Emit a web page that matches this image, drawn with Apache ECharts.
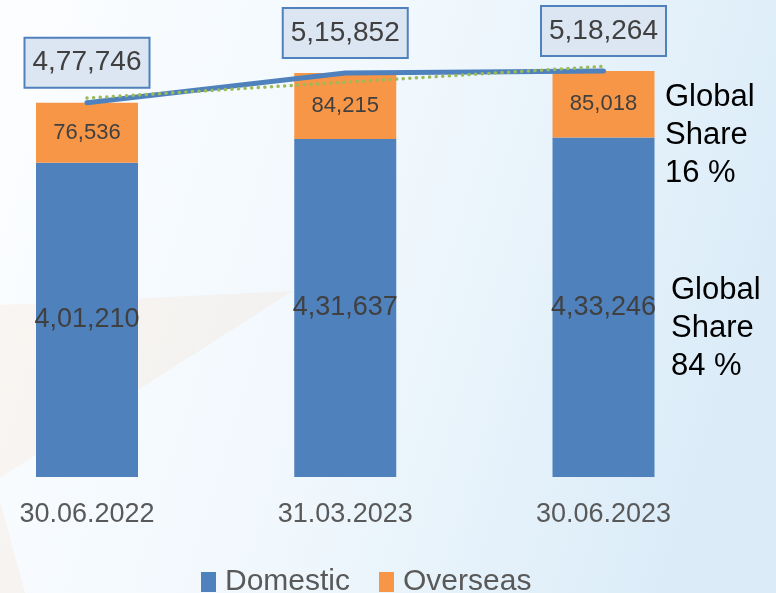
<!DOCTYPE html>
<html>
<head>
<meta charset="utf-8">
<script src="https://cdn.jsdelivr.net/npm/echarts@6/dist/echarts.min.js"></script>
<style>
  html, body { margin: 0; padding: 0; }
  #chart { width: 776px; height: 593px; }
</style>
</head>
<body>
<div id="chart"></div>
<script>
const dates = ['30.06.2022', '31.03.2023', '30.06.2023'];
const domestic = [401210, 431637, 433246];
const overseas = [76536, 84215, 85018];
const totals = [477746, 515852, 518264];
// dotted trend line
const trend = [483700, 504000, 524200];

const FONT = "'Liberation Sans', Arial, sans-serif";
const fmt = v => v.toLocaleString('en-IN');

const chart = echarts.init(document.getElementById('chart'));

const option = {
  backgroundColor: {
    type: 'linear', x: 0, y: 0, x2: 1, y2: 0.4,
    colorStops: [
      { offset: 0, color: '#fcfdff' },
      { offset: 0.5, color: '#f1f8fd' },
      { offset: 1, color: '#dbecf8' }
    ]
  },
  textStyle: { fontFamily: FONT },
  animation: false,
  grid: { left: 87, right: 172.5, top: 7, bottom: 116 },
  xAxis: {
    type: 'category',
    data: dates,
    boundaryGap: false,
    axisLine: { show: false },
    axisTick: { show: false },
    axisLabel: { fontSize: 27, color: '#595959', margin: 24, fontFamily: FONT }
  },
  yAxis: {
    type: 'value',
    min: 0,
    max: 600000,
    show: false,
    splitLine: { show: false }
  },
  legend: {
    data: ['Domestic', 'Overseas'],
    left: 196,
    top: 562,
    icon: 'rect',
    itemWidth: 15,
    itemHeight: 20,
    itemGap: 29,
    textStyle: { fontSize: 30, color: '#595959', fontFamily: FONT, padding: [0, 0, 0, 4] }
  },
  graphic: [
    {
      type: 'polygon', z: -10, silent: true,
      shape: { points: [[0, 305], [293, 291], [0, 478]] },
      style: { fill: 'rgba(248, 190, 130, 0.1)' }
    },
    {
      type: 'polygon', z: -10, silent: true,
      shape: { points: [[0, 500], [25, 593], [0, 593]] },
      style: { fill: 'rgba(248, 190, 130, 0.1)' }
    },
    {
      type: 'text', left: 665, top: 78, z: 10,
      style: { text: 'Global\nShare\n16 %', fontSize: 31, lineHeight: 38, fill: '#000', fontFamily: FONT }
    },
    {
      type: 'text', left: 671, top: 271, z: 10,
      style: { text: 'Global\nShare\n84 %', fontSize: 31, lineHeight: 38, fill: '#000', fontFamily: FONT }
    }
  ],
  series: [
    {
      name: 'Domestic',
      type: 'bar',
      stack: 'total',
      barWidth: 102,
      data: domestic,
      itemStyle: { color: '#4f81bd' },
      label: {
        show: true, position: 'inside', fontSize: 27, color: '#404040', fontFamily: FONT,
        formatter: p => fmt(p.value)
      }
    },
    {
      name: 'Overseas',
      type: 'bar',
      stack: 'total',
      barWidth: 102,
      data: overseas,
      itemStyle: { color: '#f79646' },
      label: {
        show: true, position: 'inside', fontSize: 22, color: '#404040', fontFamily: FONT,
        formatter: p => fmt(p.value)
      }
    },
    {
      name: 'Total',
      type: 'line',
      data: totals,
      symbol: 'circle',
      symbolSize: 4,
      itemStyle: { color: '#4f81bd' },
      lineStyle: { color: '#4f81bd', width: 5, cap: 'round' },
      z: 5,
      label: {
        show: true,
        position: 'top',
        distance: 14,
        fontSize: 28,
        lineHeight: 30,
        color: '#404040',
        fontFamily: FONT,
        backgroundColor: '#dce6f2',
        borderColor: '#4f81bd',
        borderWidth: 2,
        padding: [9, 7],
        formatter: p => fmt(p.value)
      }
    },
    {
      name: 'Trend',
      type: 'line',
      data: trend,
      symbol: 'none',
      z: 6,
      lineStyle: { color: '#9bbb59', width: 3.5, type: [0.1, 6.5], cap: 'round' }
    }
  ]
};

chart.setOption(option);
</script>
</body>
</html>
